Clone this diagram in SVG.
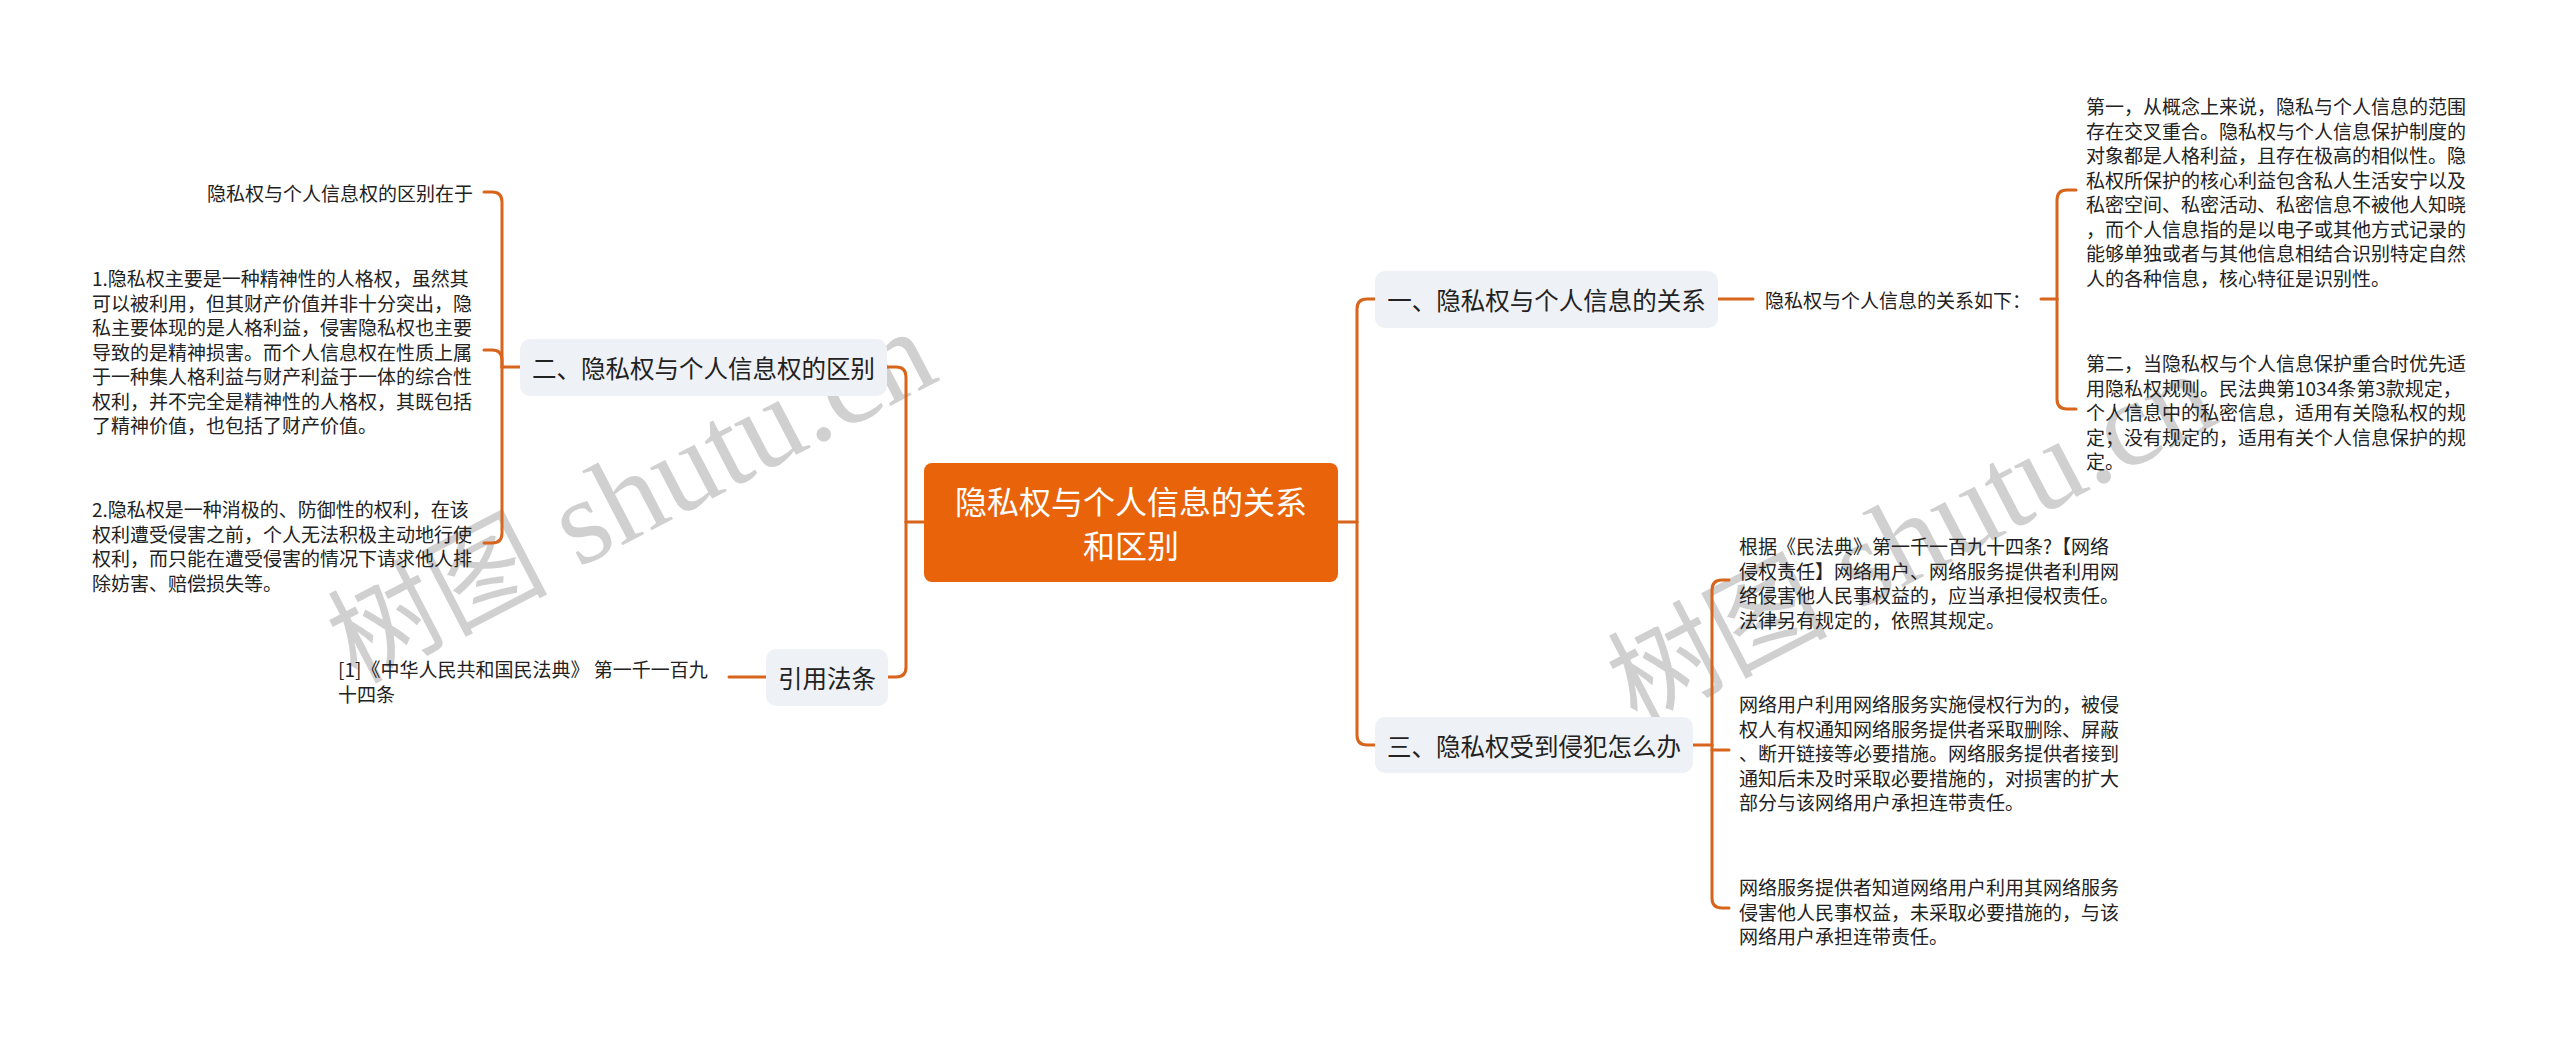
<svg xmlns="http://www.w3.org/2000/svg" width="2560" height="1038" viewBox="0 0 2560 1038">
<style>
.cn{font-family:"Noto Sans CJK SC","Noto Sans",sans-serif;}
.leaf{font-size:19px;fill:#222;dominant-baseline:central;}
.l1box{fill:#eef1f5;}
.l1txt{font-size:24.5px;fill:#222;text-anchor:middle;dominant-baseline:central;}
.root{fill:#e9630a;}
.roottxt{font-size:32px;fill:#fff;text-anchor:middle;dominant-baseline:central;}
.conn path{fill:none;stroke:#d8651c;stroke-width:3;stroke-linecap:round;}
.wm{fill:#d0d0d0;}
.wmc{font-family:"Noto Sans CJK SC",sans-serif;font-size:110px;}
.wml{font-family:"Liberation Serif",serif;font-size:122px;}
</style>
<rect width="2560" height="1038" fill="#fff"/>
<g id="watermarks">
<text class="wm" transform="translate(356,684) rotate(-27.5)"><tspan class="wmc">树图</tspan><tspan class="wml"> shutu.cn</tspan></text>
<text class="wm" transform="translate(1636,726) rotate(-27.5)"><tspan class="wmc">树图</tspan><tspan class="wml"> shutu.cn</tspan></text>
</g>
<g id="connectors" class="conn">
<path d="M924,522 H906"/>
<path d="M906,522 V377 Q906,367 896,367 H887"/>
<path d="M906,522 V667 Q906,677 896,677 H888"/>
<path d="M520,367 H502"/>
<path d="M502,367 V202 Q502,192 492,192 H484"/>
<path d="M502,367 V360 Q502,350 492,350 H484"/>
<path d="M502,367 V533 Q502,543 492,543 H484"/>
<path d="M766,677 H729"/>
<path d="M1338,522 H1357"/>
<path d="M1357,522 V309 Q1357,299 1367,299 H1375"/>
<path d="M1357,522 V735 Q1357,745 1367,745 H1375"/>
<path d="M1718,299 H1753"/>
<path d="M2041,299 H2057"/>
<path d="M2057,299 V200 Q2057,190 2067,190 H2076"/>
<path d="M2057,299 V399 Q2057,409 2067,409 H2076"/>
<path d="M1693,745 H1712"/>
<path d="M1712,745 V590 Q1712,580 1722,580 H1729"/>
<path d="M1712,750 H1729"/>
<path d="M1712,745 V898 Q1712,908 1722,908 H1729"/>
</g>
<g id="root">
<rect class="root" x="924" y="463" width="414" height="119" rx="8"/>
<text class="cn roottxt"><tspan x="1131" y="500">隐私权与个人信息的关系</tspan><tspan x="1131" y="544">和区别</tspan></text>
</g>
<g id="n-er">
<rect class="l1box" x="520" y="339" width="367" height="57" rx="10"/>
<text class="cn l1txt" x="703.5" y="367.5">二、隐私权与个人信息权的区别</text>
</g>
<g id="n-yinyong">
<rect class="l1box" x="766" y="649" width="122" height="57" rx="10"/>
<text class="cn l1txt" x="827" y="677.5">引用法条</text>
</g>
<g id="n-yi">
<rect class="l1box" x="1375" y="271" width="343" height="57" rx="10"/>
<text class="cn l1txt" x="1546.5" y="299.5">一、隐私权与个人信息的关系</text>
</g>
<g id="n-san">
<rect class="l1box" x="1375" y="717" width="318" height="56" rx="10"/>
<text class="cn l1txt" x="1534" y="745">三、隐私权受到侵犯怎么办</text>
</g>
<g id="leaf-er-0">
<text class="cn leaf" x="473" y="192" text-anchor="end">隐私权与个人信息权的区别在于</text>
</g>
<g id="leaf-er-1">
<text class="cn leaf"><tspan x="92" y="277">1.隐私权主要是一种精神性的人格权，虽然其</tspan><tspan x="92" y="301.5">可以被利用，但其财产价值并非十分突出，隐</tspan><tspan x="92" y="326">私主要体现的是人格利益，侵害隐私权也主要</tspan><tspan x="92" y="350.5">导致的是精神损害。而个人信息权在性质上属</tspan><tspan x="92" y="375">于一种集人格利益与财产利益于一体的综合性</tspan><tspan x="92" y="399.5">权利，并不完全是精神性的人格权，其既包括</tspan><tspan x="92" y="424">了精神价值，也包括了财产价值。</tspan></text>
</g>
<g id="leaf-er-2">
<text class="cn leaf"><tspan x="92" y="508">2.隐私权是一种消极的、防御性的权利，在该</tspan><tspan x="92" y="532.5">权利遭受侵害之前，个人无法积极主动地行使</tspan><tspan x="92" y="557">权利，而只能在遭受侵害的情况下请求他人排</tspan><tspan x="92" y="581.5">除妨害、赔偿损失等。</tspan></text>
</g>
<g id="leaf-yinyong">
<text class="cn leaf"><tspan x="338" y="668">[1]《中华人民共和国民法典》 第一千一百九</tspan><tspan x="338" y="692.5">十四条</tspan></text>
</g>
<g id="leaf-yi-0">
<text class="cn leaf" x="1765" y="299">隐私权与个人信息的关系如下：</text>
</g>
<g id="leaf-yi-1">
<text class="cn leaf"><tspan x="2086" y="105">第一，从概念上来说，隐私与个人信息的范围</tspan><tspan x="2086" y="129.5">存在交叉重合。隐私权与个人信息保护制度的</tspan><tspan x="2086" y="154">对象都是人格利益，且存在极高的相似性。隐</tspan><tspan x="2086" y="178.5">私权所保护的核心利益包含私人生活安宁以及</tspan><tspan x="2086" y="203">私密空间、私密活动、私密信息不被他人知晓</tspan><tspan x="2086" y="227.5">，而个人信息指的是以电子或其他方式记录的</tspan><tspan x="2086" y="252">能够单独或者与其他信息相结合识别特定自然</tspan><tspan x="2086" y="276.5">人的各种信息，核心特征是识别性。</tspan></text>
</g>
<g id="leaf-yi-2">
<text class="cn leaf"><tspan x="2086" y="362">第二，当隐私权与个人信息保护重合时优先适</tspan><tspan x="2086" y="386.5">用隐私权规则。民法典第1034条第3款规定，</tspan><tspan x="2086" y="411">个人信息中的私密信息，适用有关隐私权的规</tspan><tspan x="2086" y="435.5">定；没有规定的，适用有关个人信息保护的规</tspan><tspan x="2086" y="460">定。</tspan></text>
</g>
<g id="leaf-san-1">
<text class="cn leaf"><tspan x="1739" y="545">根据《民法典》第一千一百九十四条?【网络</tspan><tspan x="1739" y="569.5">侵权责任】网络用户、网络服务提供者利用网</tspan><tspan x="1739" y="594">络侵害他人民事权益的，应当承担侵权责任。</tspan><tspan x="1739" y="618.5">法律另有规定的，依照其规定。</tspan></text>
</g>
<g id="leaf-san-2">
<text class="cn leaf"><tspan x="1739" y="703">网络用户利用网络服务实施侵权行为的，被侵</tspan><tspan x="1739" y="727.5">权人有权通知网络服务提供者采取删除、屏蔽</tspan><tspan x="1739" y="752">、断开链接等必要措施。网络服务提供者接到</tspan><tspan x="1739" y="776.5">通知后未及时采取必要措施的，对损害的扩大</tspan><tspan x="1739" y="801">部分与该网络用户承担连带责任。</tspan></text>
</g>
<g id="leaf-san-3">
<text class="cn leaf"><tspan x="1739" y="886">网络服务提供者知道网络用户利用其网络服务</tspan><tspan x="1739" y="910.5">侵害他人民事权益，未采取必要措施的，与该</tspan><tspan x="1739" y="935">网络用户承担连带责任。</tspan></text>
</g>
</svg>
